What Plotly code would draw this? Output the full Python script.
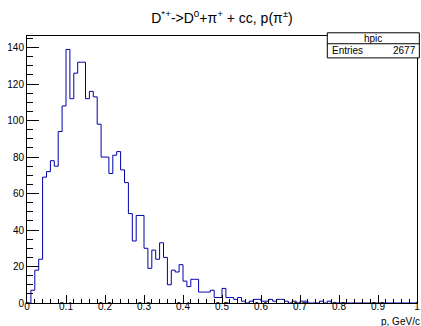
import plotly.graph_objects as go

# histogram hpic: 100 bins on [0, 1], counts
bin_lo = 0.0
bin_hi = 1.0
n_bins = 100
counts = [
    0, 7, 18, 24, 69, 72, 78, 75, 94, 108,
    139, 112, 126, 132, 132, 112, 116, 113, 98, 80,
    80, 71, 81, 83, 73, 66, 49, 34, 48, 48,
    30, 19, 29, 24, 33, 25, 10, 18, 17, 21,
    12, 9, 13, 13, 6, 6, 6, 7, 3, 3,
    8, 3, 3, 2, 3, 1, 0, 1, 2, 2,
    1, 1, 2, 1, 2, 2, 1, 0, 1, 0,
    1, 1, 0, 0, 0, 1, 0, 1, 0, 0,
    0, 0, 0, 0, 0, 0, 0, 0, 0, 0,
    0, 0, 0, 0, 0, 0, 0, 0, 0, 0,
]
hist_name = "hpic"
entries = 2677
title = "D<sup>*+</sup>->D<sup>0</sup>+π<sup>+</sup> + cc, p(π<sup>±</sup>)"
x_title = "p, GeV/c"

width = (bin_hi - bin_lo) / n_bins
edges = [bin_lo + i * width for i in range(n_bins + 1)]
ys = counts + [counts[-1]]
ymax = max(counts) * 1.053

font = "Liberation Sans, Arial, sans-serif"

fig = go.Figure()
fig.add_trace(go.Scatter(x=edges, y=ys, mode="lines", line_shape="hv",
                         line=dict(color="#0000aa", width=1), showlegend=False))

fig.update_layout(
    width=421, height=326, autosize=False,
    margin=dict(l=27, r=4, t=36, b=23, pad=0),
    paper_bgcolor="white", plot_bgcolor="white",
    font=dict(family=font, size=10, color="black"),
    title=dict(text=title, x=0.5, xref="paper", xanchor="center",
               y=1 - 18 / 326, yref="container", yanchor="middle",
               font=dict(size=14, family=font)),
)
fig.update_xaxes(range=[bin_lo, bin_hi], showgrid=False, zeroline=False, automargin=False,
                 showline=True, mirror=True, linecolor="black", linewidth=1,
                 ticks="inside", ticklen=8, tickcolor="black", dtick=0.1, tick0=0,
                 ticklabelstandoff=-6,
                 minor=dict(ticks="inside", ticklen=4, dtick=0.02, tickcolor="black"))
fig.update_yaxes(range=[0, ymax], showgrid=False, zeroline=False, automargin=False,
                 showline=True, mirror=True, linecolor="black", linewidth=1,
                 ticks="inside", ticklen=12, tickcolor="black", dtick=20, tick0=0,
                 minor=dict(ticks="inside", ticklen=6, dtick=5, tickcolor="black"))

# x axis title at the right end, below the labels
fig.add_annotation(text=x_title, xref="paper", yref="paper", x=1.012, y=-0.0685,
                   xanchor="right", yanchor="middle", showarrow=False,
                   font=dict(size=10))

# stats box
bx0, bx1 = 0.770, 1.006
by_top, by_mid, by_bot = 1.012, 0.971, 0.918
fig.add_shape(type="rect", xref="paper", yref="paper", x0=bx0, x1=bx1, y0=by_bot, y1=by_top,
              line=dict(color="black", width=1), fillcolor="white", layer="above")
fig.add_shape(type="line", xref="paper", yref="paper", x0=bx0, x1=bx1, y0=by_mid, y1=by_mid,
              line=dict(color="black", width=1), layer="above")
fig.add_annotation(text=hist_name, xref="paper", yref="paper", x=(bx0 + bx1) / 2,
                   y=(by_top + by_mid) / 2, xanchor="center", yanchor="middle",
                   showarrow=False, font=dict(size=10))
fig.add_annotation(text="Entries", xref="paper", yref="paper", x=bx0 + 0.008,
                   y=(by_mid + by_bot) / 2, xanchor="left", yanchor="middle",
                   showarrow=False, font=dict(size=10))
fig.add_annotation(text=str(entries), xref="paper", yref="paper", x=bx1 - 0.003,
                   y=(by_mid + by_bot) / 2, xanchor="right", yanchor="middle",
                   showarrow=False, font=dict(size=10))

# the page body has a default 8px margin; drop it so the figure fills the window
fig.write_html("out.html", config={"displayModeBar": False},
               post_script="document.body.style.margin='0px';")
